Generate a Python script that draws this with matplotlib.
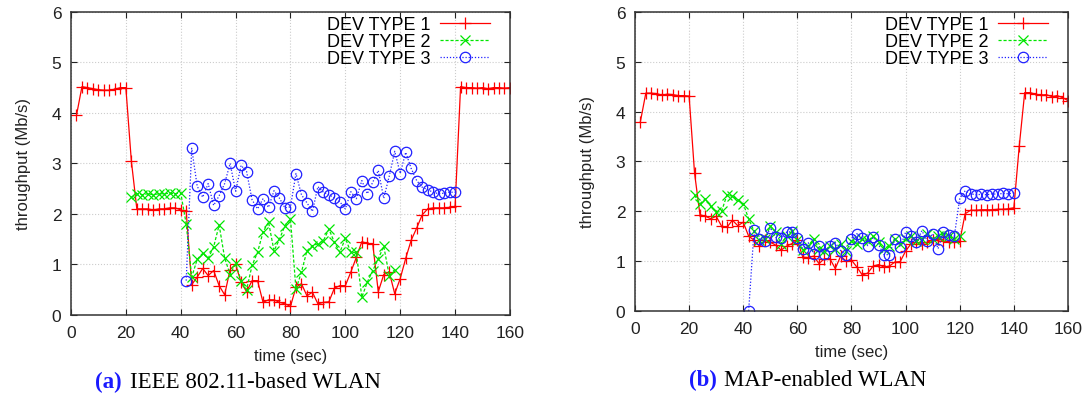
import numpy as np
import matplotlib
matplotlib.use("Agg")
import matplotlib.pyplot as plt

plt.rcParams['font.family'] = ['Liberation Sans', 'DejaVu Sans']

# sample instants (s)
t_red = list(range(2, 161, 2))
t_green = list(range(22, 121, 2))
t_green_a = list(range(22, 119, 2))
t_blue = list(range(42, 141, 2))

# (a) IEEE 802.11-based WLAN
red_a = [3.95, 4.52, 4.50, 4.48, 4.46, 4.45, 4.45, 4.47, 4.50, 4.50,
         3.05, 2.10, 2.10, 2.10, 2.08, 2.10, 2.10, 2.12, 2.12, 2.08,
         2.05, 0.60, 0.75, 0.92, 0.78, 0.88, 0.58, 0.40, 0.90, 1.00,
         0.65, 0.46, 0.68, 0.68, 0.25, 0.30, 0.30, 0.25, 0.22, 0.17,
         0.55, 0.62, 0.38, 0.45, 0.22, 0.25, 0.26, 0.53, 0.58, 0.58,
         0.85, 1.14, 1.45, 1.42, 1.40, 0.46, 0.80, 0.85, 0.42, 0.72,
         1.12, 1.48, 1.72, 1.98, 2.10, 2.12, 2.12, 2.12, 2.13, 2.15,
         4.52, 4.50, 4.50, 4.49, 4.50, 4.48, 4.50, 4.50, 4.49, 4.50]
green_a = [2.33, 2.40, 2.38, 2.40, 2.38, 2.40, 2.40, 2.41, 2.40, 2.42,
           1.80, 0.75, 1.10, 1.22, 1.12, 1.35, 1.78, 1.13, 0.80, 1.02,
           0.68, 0.50, 0.98, 1.24, 1.64, 1.84, 1.27, 1.50, 1.77, 1.90,
           0.51, 0.85, 1.27, 1.37, 1.41, 1.47, 1.70, 1.44, 1.24, 1.52,
           1.24, 1.24, 0.35, 0.65, 0.88, 1.11, 1.36, 0.78, 0.90]
blue_a = [0.68, 3.30, 2.55, 2.33, 2.60, 2.17, 2.36, 2.60, 3.00, 2.45,
          2.96, 2.84, 2.28, 2.10, 2.30, 2.13, 2.46, 2.31, 2.12, 2.14,
          2.80, 2.38, 2.22, 2.05, 2.54, 2.43, 2.38, 2.32, 2.24, 2.10,
          2.44, 2.30, 2.66, 2.40, 2.63, 2.86, 2.31, 2.75, 3.24, 2.80,
          3.22, 2.90, 2.66, 2.53, 2.48, 2.43, 2.40, 2.41, 2.43, 2.43]

# (b) MAP-enabled WLAN
red_b = [3.80, 4.37, 4.37, 4.36, 4.33, 4.35, 4.34, 4.32, 4.32, 4.31,
         2.77, 1.93, 1.90, 1.85, 1.90, 1.70, 1.68, 1.82, 1.71, 1.78,
         1.50, 1.42, 1.30, 1.42, 1.38, 1.32, 1.22, 1.30, 1.35, 1.42,
         1.08, 1.07, 1.10, 0.95, 1.05, 1.05, 0.85, 1.10, 1.00, 1.02,
         0.88, 0.72, 0.76, 0.90, 0.93, 0.88, 0.90, 0.98, 0.99, 1.20,
         1.35, 1.38, 1.35, 1.38, 1.42, 1.45, 1.40, 1.38, 1.38, 1.40,
         1.95, 2.02, 2.02, 2.03, 2.03, 2.03, 2.04, 2.04, 2.05, 2.07,
         3.31, 4.38, 4.38, 4.35, 4.33, 4.34, 4.30, 4.32, 4.28, 4.22]
green_b = [2.32, 2.15, 2.25, 2.10, 1.98, 2.00, 2.33, 2.30, 2.22, 2.15,
           1.85, 1.60, 1.42, 1.45, 1.70, 1.58, 1.35, 1.50, 1.60, 1.42,
           1.22, 1.30, 1.45, 1.25, 1.20, 1.30, 1.25, 1.35, 1.20, 1.40,
           1.35, 1.45, 1.40, 1.50, 1.38, 1.25, 1.30, 1.45, 1.35, 1.45,
           1.50, 1.40, 1.45, 1.55, 1.45, 1.50, 1.55, 1.50, 1.45, 1.50]
blue_b = [0.00, 1.62, 1.44, 1.41, 1.67, 1.48, 1.47, 1.58, 1.59, 1.46,
          1.25, 1.37, 1.15, 1.30, 1.14, 1.31, 1.37, 1.21, 1.13, 1.45,
          1.55, 1.46, 1.31, 1.48, 1.33, 1.13, 1.13, 1.45, 1.28, 1.58,
          1.51, 1.38, 1.61, 1.41, 1.55, 1.25, 1.58, 1.53, 1.50, 2.26,
          2.41, 2.35, 2.33, 2.34, 2.33, 2.35, 2.34, 2.36, 2.35, 2.37]

labels = ['DEV TYPE 1', 'DEV TYPE 2', 'DEV TYPE 3']

fig = plt.figure(figsize=(10.92, 4.02), dpi=100)
ax_a = fig.add_axes([0.065, 0.214, 0.402, 0.754])
ax_b = fig.add_axes([0.5815, 0.224, 0.3965, 0.744])


def draw(ax, red, green, tg, blue):
    ax.plot(t_red, red, color='#ff0000', lw=0.9, marker='+', ms=9, mew=0.9,
            label=labels[0])
    ax.plot(tg, green, color='#00e600', lw=0.9, ls=(0, (2.5, 1.5)), marker='x',
            ms=7, mew=0.9, label=labels[1])
    ax.plot(t_blue, blue, color='#2020ff', lw=0.9, ls=(0, (1, 1.5)), marker='o',
            ms=7.5, mfc='none', mew=0.9, label=labels[2])
    ax.set_xlim(0, 160)
    ax.set_ylim(0, 6)
    ax.set_xticks(range(0, 161, 20))
    ax.set_yticks(range(0, 7))
    ax.grid(True, color='#cccccc', ls=':', lw=0.8)
    ax.tick_params(direction='in', top=True, right=True, labelsize=12.5,
                   colors='#222222', length=4, pad=7)
    for s in ax.spines.values():
        s.set_color('#333333')
        s.set_linewidth(1.1)
    ax.set_xlabel('time (sec)', fontsize=12, color='#222222', labelpad=6)
    ax.set_ylabel('throughput (Mb/s)', fontsize=12, color='#222222', labelpad=15)
    ax.legend(loc='upper right', bbox_to_anchor=(0.955, 0.985), frameon=False,
              markerfirst=False, fontsize=13, handlelength=2.8,
              labelspacing=0.0, borderaxespad=0, borderpad=0,
              handletextpad=0.5)


draw(ax_a, red_a, green_a, t_green_a, blue_a)
draw(ax_b, red_b, green_b, t_green, blue_b)

fig.text(0.087, 0.035, '(a)', color='#1a1aff', fontsize=16.5, fontweight='bold',
         family=['Liberation Serif'])
fig.text(0.119, 0.035, 'IEEE 802.11-based WLAN', color='black', fontsize=16.5,
         family=['Liberation Serif'])
fig.text(0.631, 0.04, '(b)', color='#1a1aff', fontsize=16.5, fontweight='bold',
         family=['Liberation Serif'])
fig.text(0.663, 0.04, 'MAP-enabled WLAN', color='black', fontsize=16.5,
         family=['Liberation Serif'])

fig.savefig('out.png', dpi=100)
